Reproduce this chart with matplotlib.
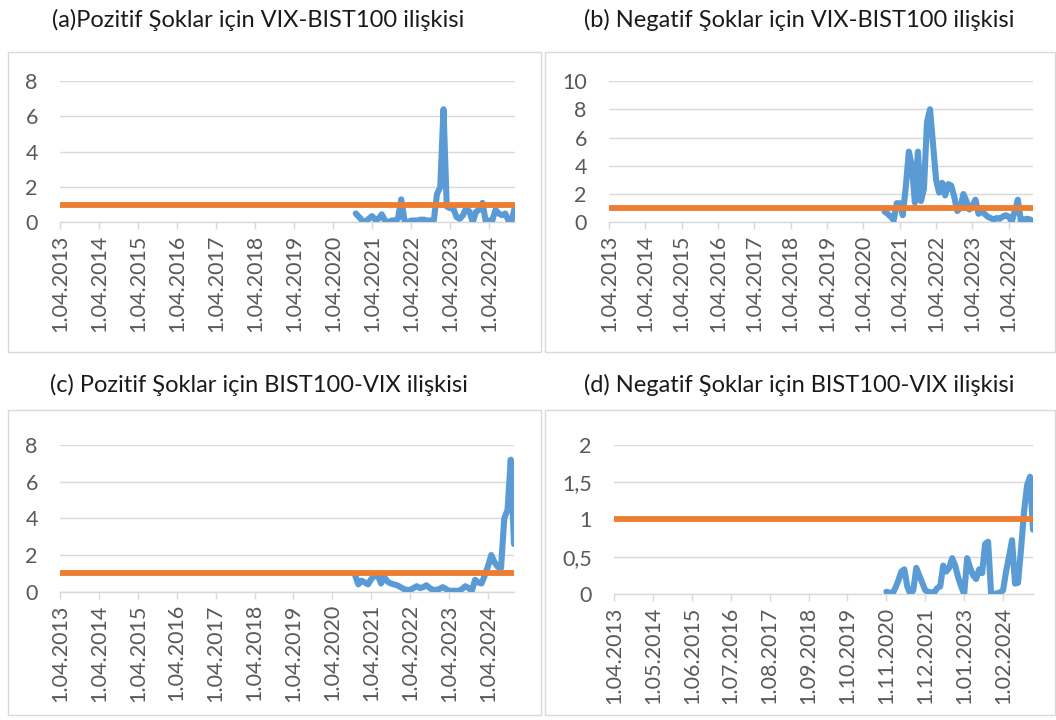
import matplotlib
matplotlib.use("Agg")
import matplotlib.pyplot as plt
from matplotlib.patches import Rectangle
import numpy as np
import pandas as pd

plt.rcParams['font.family'] = ['Lato', 'DejaVu Sans']

# monthly categories 1.04.2013 ... 1.12.2024
dates = pd.date_range('2013-04-01', periods=141, freq='MS')
date_labels = [f"{d.day}.{d.month:02d}.{d.year}" for d in dates]
start_idx = 91  # first month with a value (1.11.2020)

# blue series (values from 1.11.2020 to 1.12.2024)
vix_bist_pos = [0.5, 0.3, 0.1, 0.0, 0.2, 0.35, 0.15, 0.2, 0.45, 0.1,
                0.0, 0.1, 0.1, 0.2, 1.3, 0.1, 0.0, 0.1, 0.1, 0.1,
                0.15, 0.15, 0.1, 0.1, 0.1, 1.6, 2.0, 6.4, 0.9, 0.8,
                0.8, 0.3, 0.2, 0.4, 0.8, 0.6, 0.0, 0.6, 0.7, 1.1,
                0.05, 0.1, 0.1, 0.7, 0.5, 0.4, 0.5, 0.1, 0.1, 0.9]
vix_bist_neg = [0.75, 0.6, 0.4, 0.15, 1.35, 1.35, 0.5, 2.5, 5.0, 4.0,
                1.4, 5.0, 1.5, 2.4, 7.1, 8.0, 5.5, 3.0, 2.1, 2.8,
                1.9, 2.7, 2.6, 1.8, 0.8, 1.0, 2.0, 1.5, 0.9, 1.2,
                1.6, 0.6, 0.8, 0.6, 0.4, 0.3, 0.2, 0.3, 0.25, 0.4,
                0.5, 0.4, 0.05, 0.8, 1.6, 0.1, 0.2, 0.25, 0.2, 0.1]
bist_vix_pos = [0.9, 0.4, 0.6, 0.5, 0.4, 0.7, 0.85, 0.9, 0.45, 0.8,
                0.55, 0.45, 0.4, 0.35, 0.25, 0.15, 0.1, 0.1, 0.2, 0.3,
                0.2, 0.25, 0.35, 0.2, 0.1, 0.1, 0.15, 0.25, 0.15, 0.05,
                0.05, 0.05, 0.05, 0.15, 0.3, 0.2, 0.05, 0.65, 0.5, 0.45,
                0.9, 1.4, 2.0, 1.6, 1.35, 1.3, 4.0, 4.45, 7.2, 2.6]
bist_vix_neg = [0.03, 0.02, 0.0, 0.08, 0.18, 0.3, 0.33, 0.1, 0.0, 0.05,
                0.35, 0.25, 0.15, 0.05, 0.03, 0.02, 0.02, 0.08, 0.1, 0.38,
                0.3, 0.35, 0.48, 0.38, 0.22, 0.1, 0.0, 0.48, 0.35, 0.25,
                0.2, 0.33, 0.28, 0.67, 0.7, 0.0, 0.0, 0.01, 0.02, 0.05,
                0.3, 0.5, 0.72, 0.14, 0.15, 0.6, 1.1, 1.45, 1.57, 0.86]
threshold = 1.0

titles = ['(a)Pozitif Şoklar için VIX-BIST100 ilişkisi',
          '(b) Negatif Şoklar için VIX-BIST100 ilişkisi',
          '(c) Pozitif Şoklar için BIST100-VIX ilişkisi',
          '(d) Negatif Şoklar için BIST100-VIX ilişkisi']
series = [vix_bist_pos, vix_bist_neg, bist_vix_pos, bist_vix_neg]
y_ticks = [np.arange(0, 9, 2), np.arange(0, 11, 2), np.arange(0, 9, 2), np.arange(0, 2.01, 0.5)]
y_ticklabels = [[str(int(t)) for t in y_ticks[0]],
                [str(int(t)) for t in y_ticks[1]],
                [str(int(t)) for t in y_ticks[2]],
                ['0', '0,5', '1', '1,5', '2']]
label_step = [12, 12, 12, 13]

W, H = 1056, 720
fig = plt.figure(figsize=(W / 100, H / 100), dpi=100)

# chart boxes and titles (pixel coords from top-left)
boxes = [(8, 52, 541, 352), (545, 52, 1055, 352), (8, 410, 541, 715), (545, 410, 1055, 715)]
title_pos = [(258, 20), (799, 20), (259, 385), (799, 385)]
axes_px = [(60, 81, 515, 222.3), (609, 81, 1033, 222.3), (60, 445, 514, 591.7), (614, 444.6, 1033, 594)]

for (x0, y0, x1, y1) in boxes:
    fig.patches.append(Rectangle((x0 / W, 1 - y1 / H), (x1 - x0) / W, (y1 - y0) / H,
                                 transform=fig.transFigure, fill=False,
                                 edgecolor='#d9d9d9', linewidth=1.0))

grey = '#595959'
grid_c = '#d9d9d9'
n = len(dates)
x = np.arange(n)

for k in range(4):
    x0, y0, x1, y1 = axes_px[k]
    ax = fig.add_axes([x0 / W, 1 - y1 / H, (x1 - x0) / W, (y1 - y0) / H])
    vals = np.full(n, np.nan)
    vals[start_idx:start_idx + len(series[k])] = series[k]
    ax.plot(x, vals, color='#5b9bd5', linewidth=4.4, solid_capstyle='round',
            solid_joinstyle='round', zorder=3)
    ax.plot(x, np.full(n, threshold), color='#ed7d31', linewidth=4.2,
            solid_capstyle='butt', zorder=4)
    ax.set_xlim(0, n - 1)
    ax.set_ylim(y_ticks[k][0], y_ticks[k][-1])
    ax.set_yticks(y_ticks[k])
    ax.set_yticklabels(y_ticklabels[k])
    xt = np.arange(0, n, label_step[k])
    ax.set_xticks(xt)
    ax.set_xticklabels([date_labels[i] for i in xt], rotation=90)
    ax.tick_params(axis='x', colors=grid_c, length=5, width=1, labelcolor=grey,
                   labelsize=15.5, pad=4)
    ax.tick_params(axis='y', length=0, labelcolor=grey, labelsize=15.5, pad=16)
    for s in ['left', 'right', 'top']:
        ax.spines[s].set_visible(False)
    ax.spines['bottom'].set_color(grid_c)
    ax.spines['bottom'].set_linewidth(1)
    ax.grid(axis='y', color=grid_c, linewidth=1)
    ax.set_axisbelow(True)
    ax.patch.set_alpha(0)

for k in range(4):
    tx, ty = title_pos[k]
    fig.text(tx / W, 1 - ty / H, titles[k], ha='center', va='center',
             fontsize=17, color='#1a1a1a')

fig.savefig('out.png', dpi=100)
